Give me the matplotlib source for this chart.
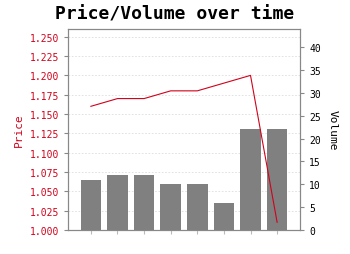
import numpy as np
import matplotlib
matplotlib.use('Agg')
import matplotlib.pyplot as plt
import matplotlib.transforms as mtransforms

days = list(range(8))
volume = [11, 12, 12, 10, 10, 6, 22, 22]
price = [1.16, 1.17, 1.17, 1.18, 1.18, 1.19, 1.20, 1.01]

red = '#d0021b'
edge = '#888888'

plt.rcParams['font.family'] = 'DejaVu Sans Mono'

fig = plt.figure(figsize=(3.5, 2.55), dpi=100)
ax = fig.add_axes([68 / 350, 24 / 255, 232 / 350, 201 / 255])
ax2 = ax.twinx()

ax.set_ylim(1.0, 1.26)
ax.set_xlim(-0.86, 7.86)

# grid lines of the price axis, but drawn under the bars
trans = mtransforms.blended_transform_factory(ax2.transAxes, ax.transData)
for v in np.arange(1.025, 1.251, 0.025):
    ax2.plot([0, 1], [v, v], transform=trans, color='#dddddd', linewidth=0.6,
             linestyle=(0, (2, 2)), zorder=0)

# bars on the right axis, drawn behind the price line
ax2.bar(days, volume, width=0.77, color='#808080', zorder=1)
ax2.set_ylim(0, 44)
ax2.set_yticks(range(0, 45, 5))
ax2.set_ylabel('Volume', rotation=-90, labelpad=12, fontsize=8)
ax2.tick_params(axis='y', labelsize=7, length=3, color=edge)

ax.set_zorder(ax2.get_zorder() + 1)
ax.patch.set_visible(False)
ax.plot(days, price, color=red, linewidth=0.8)
ax.set_yticks(np.arange(1.0, 1.251, 0.025))
ax.set_yticklabels(['%.3f' % v for v in np.arange(1.0, 1.251, 0.025)])
ax.set_ylabel('Price', color=red, fontsize=8)
ax.tick_params(axis='y', labelsize=7, labelcolor=red, length=3, color=edge)
ax.set_xticks(days)
ax.set_xticklabels([])
ax.tick_params(axis='x', length=3, color='#bbbbbb')

for a in (ax, ax2):
    for s in a.spines.values():
        s.set_color(edge)
        s.set_linewidth(0.8)

fig.suptitle('Price/Volume over time', fontsize=13, fontweight='bold', y=0.98)

fig.savefig('out.png', dpi=100)
